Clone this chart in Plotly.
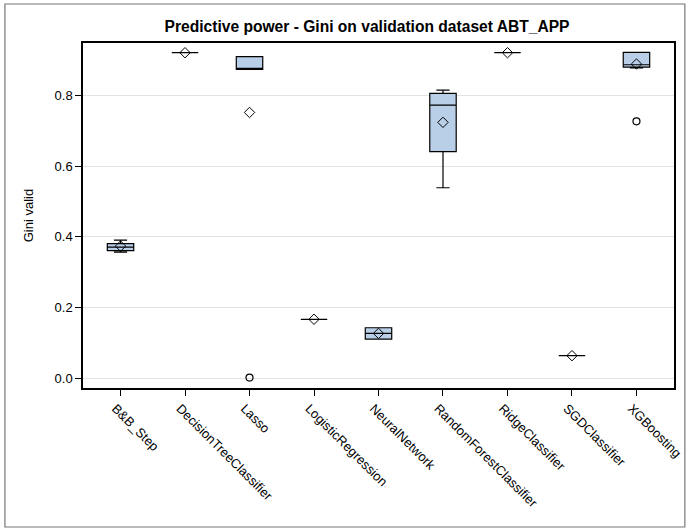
import plotly.graph_objects as go

# Validation Gini per model: box statistics, means and outliers
models = ["B&B_Step", "DecisionTreeClassifier", "Lasso", "LogisticRegression",
          "NeuralNetwork", "RandomForestClassifier", "RidgeClassifier",
          "SGDClassifier", "XGBoosting"]
q1 = [0.361, 0.921, 0.874, 0.167, 0.111, 0.641, 0.921, 0.064, 0.880]
median = [0.371, 0.921, 0.876, 0.167, 0.127, 0.773, 0.921, 0.064, 0.887]
q3 = [0.381, 0.921, 0.910, 0.167, 0.143, 0.806, 0.921, 0.064, 0.922]
lower_fence = [0.357, 0.921, 0.874, 0.167, 0.111, 0.539, 0.921, 0.064, 0.878]
upper_fence = [0.391, 0.921, 0.910, 0.167, 0.143, 0.815, 0.921, 0.064, 0.922]
means = [0.374, 0.921, 0.752, 0.167, 0.127, 0.724, 0.921, 0.064, 0.889]
outlier_models = ["Lasso", "XGBoosting"]
outlier_values = [0.002, 0.727]

W, H = 696, 531
L, R, T, B = 83, 15, 43, 143
pw, ph = W - L - R, H - T - B

fig = go.Figure()
fig.add_trace(go.Box(
    x=models, q1=q1, median=median, q3=q3,
    lowerfence=lower_fence, upperfence=upper_fence,
    boxpoints=False, width=0.41, whiskerwidth=0.5,
    fillcolor="#b9cfe8", line=dict(color="black", width=1.2),
    showlegend=False, hoverinfo="skip",
))
fig.add_trace(go.Scatter(
    x=models, y=means, mode="markers",
    marker=dict(symbol="diamond-open", size=8, color="black", line=dict(width=1)),
    showlegend=False,
))
fig.add_trace(go.Scatter(
    x=outlier_models, y=outlier_values, mode="markers",
    marker=dict(symbol="circle-open", size=7, color="black", line=dict(width=1.2)),
    showlegend=False,
))

font = "Liberation Sans, Arial, sans-serif"
fig.update_layout(
    width=W, height=H,
    margin=dict(l=L, r=R, t=T, b=B),
    paper_bgcolor="white", plot_bgcolor="white",
    font=dict(family=font, size=13, color="black"),
    title=dict(text="<b>Predictive power - Gini on validation dataset ABT_APP</b>",
               font=dict(size=15.6, family=font, color="black"),
               x=367 / W, xanchor="center", y=1 - 27 / H, yanchor="middle"),
    xaxis=dict(
        type="category", categoryorder="array", categoryarray=models,
        range=[-0.582, 8.582], tickangle=45, ticklabelshift=-5,
        showline=True, mirror=True, linecolor="black", linewidth=1.5,
        ticks="outside", ticklen=6, tickcolor="black", showgrid=False,
        tickfont=dict(size=13),
    ),
    yaxis=dict(
        range=[-0.0274, 0.9485], dtick=0.2, tick0=0, tickformat=".1f",
        showline=True, mirror=True, linecolor="black", linewidth=1.5,
        ticks="outside", ticklen=6, tickcolor="black",
        showgrid=True, gridcolor="#e3e3e3", gridwidth=1, zeroline=False,
        title=dict(text="Gini valid", standoff=18, font=dict(size=13)),
        tickfont=dict(size=13),
    ),
    shapes=[dict(
        type="rect", xref="paper", yref="paper",
        x0=(4 - L) / pw, x1=(692 - L) / pw,
        y0=(H - B - 527) / ph, y1=(H - B - 4) / ph,
        line=dict(color="#777777", width=1.2), fillcolor="rgba(0,0,0,0)",
        layer="below",
    )],
)

fig.write_html("out.html")
